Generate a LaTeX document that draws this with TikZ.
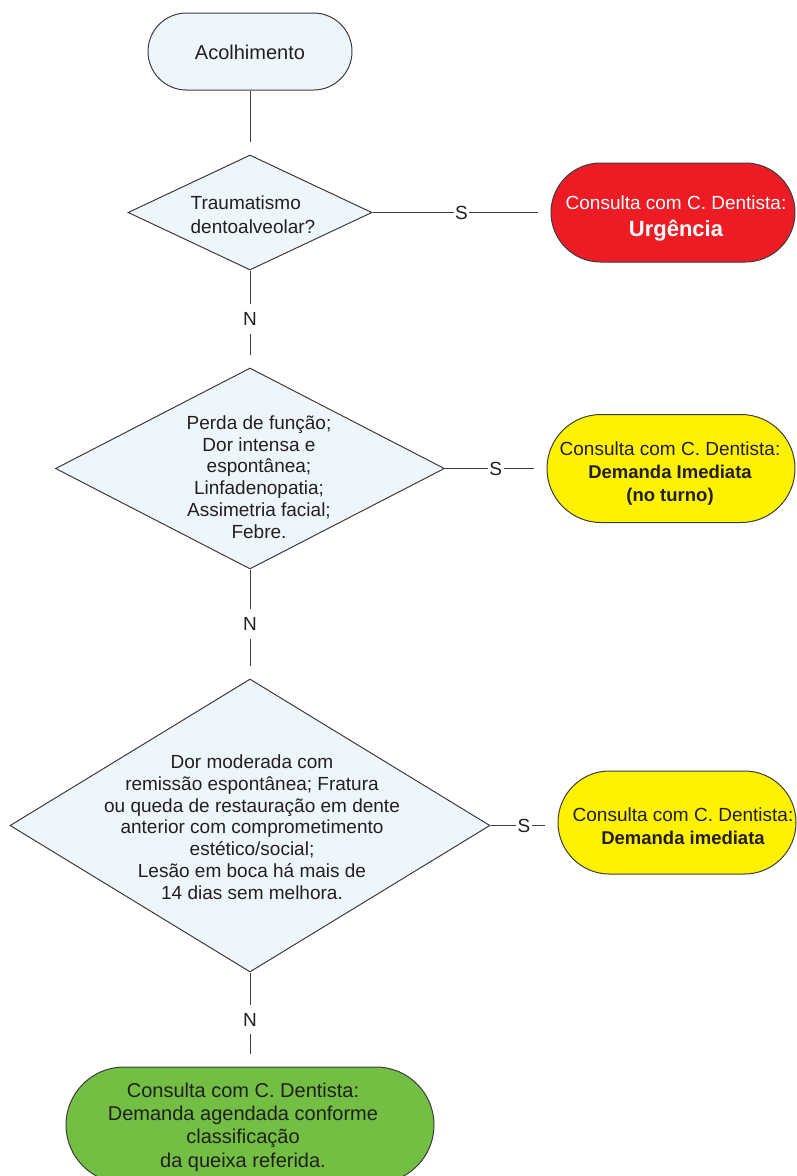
\documentclass[tikz,border=0pt]{standalone}
\usepackage{fontspec}
\setmainfont{Liberation Sans}
\usetikzlibrary{shapes.geometric}

\definecolor{paleblue}{RGB}{238,246,252}
\definecolor{urgred}{RGB}{237,28,36}
\definecolor{imyellow}{RGB}{255,242,0}
\definecolor{schedgreen}{RGB}{114,191,68}
\definecolor{ink}{RGB}{35,31,32}
\definecolor{edgegray}{RGB}{60,60,60}

\tikzset{
  shapebase/.style={draw=edgegray, line width=1pt, inner sep=0pt},
  terminal/.style={shapebase, rectangle},
  decision/.style={shapebase, diamond, fill=paleblue},
  txt/.style={inner sep=0pt, text=ink, align=center},
  link/.style={draw=edgegray, line width=0.9pt, shorten >=13pt},
  answer/.style={fill=white, inner xsep=1.5pt, inner ysep=8pt, text=ink,
                 font=\fontsize{19}{22}\selectfont},
}

\begin{document}
\begin{tikzpicture}[x=1pt, y=-1pt]
\useasboundingbox (0,0) rectangle (796,1176);

% ---- shapes ----
\node[terminal, fill=paleblue, minimum width=204pt, minimum height=77pt,
      rounded corners=38.5pt] (start) at (250,51.5) {};
\node[decision, minimum width=244pt, minimum height=115pt] (q1) at (250,212.5) {};
\node[terminal, fill=urgred, minimum width=244pt, minimum height=99pt,
      rounded corners=49.5pt] (urg) at (673,212.5) {};
\node[decision, minimum width=389pt, minimum height=201pt] (q2) at (250,468.5) {};
\node[terminal, fill=imyellow, minimum width=248pt, minimum height=108pt,
      rounded corners=54pt] (turno) at (671,468.5) {};
\node[decision, minimum width=480pt, minimum height=293pt] (q3) at (250,825.5) {};
\node[terminal, fill=imyellow, minimum width=238pt, minimum height=103pt,
      rounded corners=51.5pt] (imed) at (677,822.5) {};
\node[terminal, fill=schedgreen, minimum width=368pt, minimum height=116pt,
      rounded corners=58pt] (agenda) at (250,1125) {};

% ---- texts ----
\node[txt, font=\fontsize{20}{24}\selectfont] (start-t) at (250,52) {Acolhimento};

\node[txt, align=left, font=\fontsize{19}{24}\selectfont] (q1-t) at (253,215)
  {Traumatismo\\dentoalveolar?};

\node[txt, text=white, font=\fontsize{19}{27}\selectfont] (urg-t) at (676,218)
  {Consulta com C. Dentista:\\{\bfseries\fontsize{22}{27}\selectfont Urgência}};

\node[txt, font=\fontsize{19}{21.7}\selectfont] (q2-t) at (259,477)
  {Perda de função;\\Dor intensa e\\espontânea;\\Linfadenopatia;\\Assimetria facial;\\Febre.};

\node[txt, font=\fontsize{19}{23}\selectfont] (turno-t) at (670,474)
  {Consulta com C. Dentista:\\{\bfseries\fontsize{18.5}{23}\selectfont Demanda Imediata}\\{\bfseries\fontsize{18.5}{23}\selectfont (no turno)}};

\node[txt, font=\fontsize{19}{21.8}\selectfont] (q3-t) at (252,827)
  {Dor moderada com\\remissão espontânea; Fratura\\ou queda de restauração em dente\\anterior com comprometimento\\estético/social;\\Lesão em boca há mais de\\14 dias sem melhora.};

\node[txt, font=\fontsize{19}{23}\selectfont] (imed-t) at (683,826.5)
  {Consulta com C. Dentista:\\{\bfseries\fontsize{18.5}{23}\selectfont Demanda imediata}};

\node[txt, font=\fontsize{20}{23.4}\selectfont] (agenda-t) at (243,1127)
  {Consulta com C. Dentista:\\Demanda agendada conforme\\classificação\\da queixa referida.};

% ---- connectors ----
\draw[link] (start) -- (q1);
\draw[link] (q1) -- node[answer] (s1) {S} (urg);
\draw[link] (q1) -- node[answer] (n1) {N} (q2);
\draw[link] (q2) -- node[answer] (s2) {S} (q2 -| turno.west);
\draw[link] (q2) -- node[answer] (n2) {N} (q3);
\draw[link] (q3.east) -- node[answer] (s3) {S} (q3.east -| imed.west);
\draw[link] (q3) -- node[answer] (n3) {N} (agenda);

\end{tikzpicture}
\end{document}
